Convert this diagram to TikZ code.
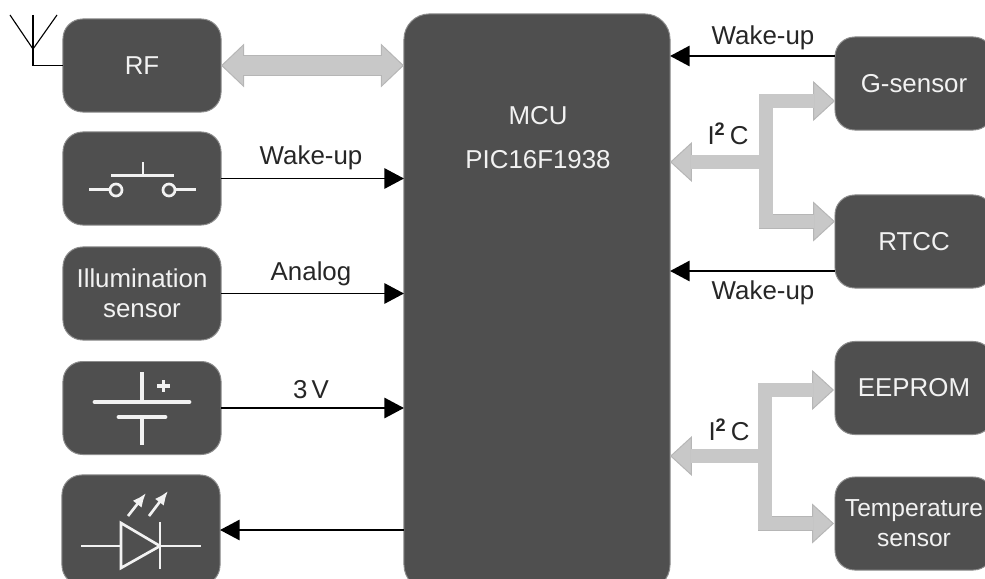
\documentclass[tikz,border=0pt]{standalone}
\usepackage{fontspec}
\setmainfont{Liberation Sans}
\usetikzlibrary{arrows.meta}
\definecolor{boxfill}{HTML}{4F4F4F}
\definecolor{boxline}{HTML}{8C8C8C}
\definecolor{busfill}{HTML}{C8C8C8}
\definecolor{busline}{HTML}{B6B6B6}
\definecolor{boxtext}{HTML}{F2F2F2}
\tikzset{
    block/.style={draw=boxline,fill=boxfill,line width=0.7pt,rounded corners=14pt,inner sep=0pt,outer sep=0pt,
        minimum width=3.95cm,minimum height=2.325cm,text=boxtext,align=center,font=\fontsize{18.4}{21.5}\selectfont},
    label/.style={text=black!85,inner sep=0pt,font=\fontsize{18.4}{21.5}\selectfont},
    signal/.style={black,line width=1.4pt,-{Triangle[length=14pt,width=14.5pt]}},
    symbol/.style={boxtext,line width=1.9pt},
    busedge/.style={draw=busline,line width=10.6pt,-{Triangle[length=15.6pt,width=28.4pt,fill=busfill,line width=0.7pt]}},
    businner/.style={draw=busfill,line width=9.4pt,shorten >=14.6pt},
}
\begin{document}
\begin{tikzpicture}[x=0.025cm,y=-0.025cm]
\useasboundingbox (0,0) rectangle (985,578);
\clip (0,0) rectangle (985,578);
% blocks
\node[block] (rf) at (142,65.5) {RF};
\node[block] (button) at (142,178.5) {};
\node[block] (illum) at (142,293.5) {Illumination\\sensor};
\node[block] (battery) at (142,408) {};
\node[block,minimum height=2.75cm] (led) at (141,530) {};
\node[block,minimum width=6.65cm,minimum height=14.4cm,rounded corners=18pt] (mcu) at (537,302) {};
\node[block] (gsensor) at (914,83.5) {G-sensor};
\node[block] (rtcc) at (914,241.5) {RTCC};
\node[block] (eeprom) at (914,388) {EEPROM};
\node[block,font=\fontsize{17.5}{21.5}\selectfont] (tempsensor) at (914,523.5) {Temperature\\sensor};
\node[label,text=boxtext] (mcuname) at (538,116) {MCU};
\node[label,text=boxtext] (mcutype) at (538,160) {PIC16F1938};
% signals
\coordinate (gwake) at (835,56);
\coordinate (rwake) at (835,271);
\draw[signal] (button.east) -- (mcu.west |- button.east);
\draw[signal] (illum.east) -- (mcu.west |- illum.east);
\draw[signal] (battery.east) -- (mcu.west |- battery.east);
\draw[signal] (mcu.west |- led.east) -- (led.east);
\draw[signal] (gwake) -- (mcu.east |- gwake);
\draw[signal] (rwake) -- (mcu.east |- rwake);
\node[label] (wakebtn) at (311,158) {Wake-up};
\node[label] (analog) at (311,274) {Analog};
\node[label] (volt) at (311,390) {3\,V};
\node[label] (wakeg) at (763,38) {Wake-up};
\node[label] (waker) at (763,293) {Wake-up};
\node[label] (busa) at (728,134) {I\textsuperscript{\textbf{2}}\,C};
\node[label] (busb) at (729,430) {I\textsuperscript{\textbf{2}}\,C};
% buses
\coordinate (ja) at (766,162);
\coordinate (ga) at (835,101);
\coordinate (ra) at (835,221.5);
\coordinate (jb) at (765,456);
\coordinate (gb) at (834,390);
\coordinate (rb) at (834,523.5);
\draw[draw=busline,line width=14.9pt,{Triangle[length=16.4pt,width=31pt,fill=busfill,line width=0.7pt]}-{Triangle[length=16.4pt,width=31pt,fill=busfill,line width=0.7pt]}] (rf.east) -- (mcu.west |- rf.east);
\draw[draw=busfill,line width=13.5pt,shorten >=15.4pt,shorten <=15.4pt] (rf.east) -- (mcu.west |- rf.east);
\draw[busedge] (ja) -- (mcu.east |- ja);
\draw[busedge] (ja) |- (ga);
\draw[busedge] (ja) |- (ra);
\draw[businner] (ja) -- (mcu.east |- ja);
\draw[businner] (ja) |- (ga);
\draw[businner] (ja) |- (ra);
\draw[busedge] (jb) -- (mcu.east |- jb);
\draw[busedge] (jb) |- (gb);
\draw[busedge] (jb) |- (rb);
\draw[businner] (jb) -- (mcu.east |- jb);
\draw[businner] (jb) |- (gb);
\draw[businner] (jb) |- (rb);
% antenna
\coordinate (anttop) at (33,15);
\coordinate (antfoot) at (33,49);
\draw[black,line width=0.8pt] (10,15) -- (antfoot) -- (57,15);
\draw[black,line width=0.8pt] (anttop) |- (rf.west);
% push button
\draw[symbol] (89,189.5) -- (110,189.5) (175,189.5) -- (196,189.5);
\draw[symbol,fill=boxfill] (116,190) circle (6) (169,190) circle (6);
\draw[symbol] (111,175.5) -- (174,175.5) (143,162) -- (143,175.5);
% battery
\draw[symbol,line width=2.6pt] (142,372) -- (142,402) (142,417) -- (142,445);
\draw[symbol,line width=3.4pt,line cap=round] (95,402) -- (189,402) (119,417) -- (165,417);
\draw[symbol,line width=2.2pt] (157,386) -- (170,386) (163.5,380) -- (163.5,392);
% led
\draw[symbol] (81,546) -- (121,546) (160,546) -- (201,546) (160,522) -- (160,569);
\draw[symbol] (121,523) -- (160,546) -- (121,568) -- cycle;
\draw[symbol,-{Latex[length=10pt,width=8pt]}] (128,516) -- (146,493);
\draw[symbol,-{Latex[length=10pt,width=8pt]}] (149,516) -- (168,491);
\end{tikzpicture}
\end{document}
